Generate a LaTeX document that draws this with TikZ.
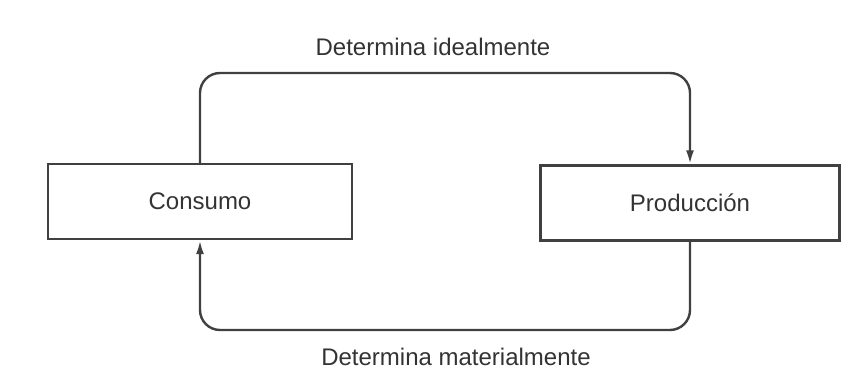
\documentclass[tikz,border=0pt]{standalone}
\usepackage{fontspec}
\setmainfont{Liberation Sans}
\usetikzlibrary{arrows.meta}

\begin{document}
\begin{tikzpicture}[x=0.5pt, y=-0.5pt,
    caja/.style={draw=black!75, line width=1.2pt, inner sep=0pt,
      minimum height=37.5pt, font=\fontsize{12}{14}\selectfont, text=black!80},
    flujo/.style={draw=black!75, line width=1.2pt, rounded corners=10pt,
      -{Latex[length=7pt, width=4pt]}},
    etiqueta/.style={font=\fontsize{12}{14}\selectfont, text=black!80}]

    \useasboundingbox (0,0) rectangle (860,389);

    % The two boxes
    \node[caja, minimum width=152pt] (consumo) at (200,201.5) {Consumo};
    \node[caja, minimum width=149.5pt] (produccion) at (690,203) {Producción};

    % Upper loop: Consumo -> Producción
    \coordinate (arriba) at (0,73);
    \draw[flujo] (consumo.north) -- (consumo.north |- arriba)
      -- (produccion.north |- arriba) -- (produccion.north);
    \node[etiqueta] (ideal) at (433,47) {Determina idealmente};

    % Lower loop: Producción -> Consumo
    \coordinate (abajo) at (0,330);
    \draw[flujo] (produccion.south) -- (produccion.south |- abajo)
      -- (consumo.south |- abajo) -- (consumo.south);
    \node[etiqueta] (material) at (456,357) {Determina materialmente};

\end{tikzpicture}
\end{document}
